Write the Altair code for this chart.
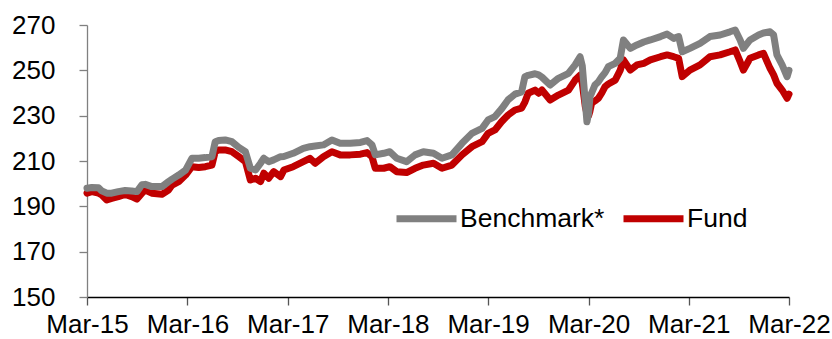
import altair as alt
import pandas as pd

dates = [
    "2015-03-01", "2015-03-18", "2015-04-12", "2015-04-24", "2015-05-12", "2015-05-30",
    "2015-06-23", "2015-07-18", "2015-08-11", "2015-08-30", "2015-09-17", "2015-09-29",
    "2015-10-23", "2015-11-29", "2015-12-23", "2016-01-05", "2016-01-29", "2016-02-23",
    "2016-03-17", "2016-04-11", "2016-05-05", "2016-05-29", "2016-06-10", "2016-06-22",
    "2016-07-16", "2016-08-10", "2016-09-04", "2016-09-28", "2016-10-16", "2016-11-04",
    "2016-11-22", "2016-12-04", "2016-12-22", "2017-01-09", "2017-02-03", "2017-02-15",
    "2017-03-21", "2017-04-27", "2017-05-21", "2017-06-09", "2017-07-09", "2017-08-09",
    "2017-09-08", "2017-10-15", "2017-11-21", "2017-12-15", "2018-01-02", "2018-01-14",
    "2018-02-14", "2018-03-08", "2018-04-02", "2018-05-08", "2018-06-08", "2018-07-08",
    "2018-08-14", "2018-09-14", "2018-10-20", "2018-11-26", "2019-01-01", "2019-02-07",
    "2019-03-01", "2019-03-26", "2019-04-19", "2019-05-13", "2019-06-07", "2019-07-01",
    "2019-07-13", "2019-07-25", "2019-08-19", "2019-09-01", "2019-09-13", "2019-10-13",
    "2019-11-12", "2019-12-19", "2020-01-12", "2020-01-30", "2020-02-07", "2020-02-18",
    "2020-02-24", "2020-03-01", "2020-03-06", "2020-03-12", "2020-03-24", "2020-04-06",
    "2020-04-18", "2020-04-30", "2020-05-12", "2020-06-06", "2020-06-24", "2020-07-06",
    "2020-07-31", "2020-08-24", "2020-09-18", "2020-10-12", "2020-11-18", "2020-12-12",
    "2021-01-05", "2021-01-23", "2021-02-05", "2021-03-05", "2021-04-11", "2021-05-17",
    "2021-06-23", "2021-07-29", "2021-08-17", "2021-09-04", "2021-09-16", "2021-10-10",
    "2021-11-10", "2021-11-28", "2021-12-22", "2022-01-04", "2022-01-16", "2022-02-04",
    "2022-02-22", "2022-03-01",
]

fund = [
    195.8, 196.5, 195.8, 195.0, 192.8, 193.5,
    194.3, 195.3, 194.3, 193.2, 195.8, 197.2,
    195.8, 195.3, 197.2, 199.4, 200.9, 203.8,
    207.5, 207.1, 207.5, 208.2, 214.1, 214.9,
    214.9, 214.1, 211.9, 209.7, 201.6, 202.4,
    200.9, 204.6, 202.4, 205.3, 203.1, 206.0,
    207.5, 209.7, 211.2, 209.0, 211.9, 214.1,
    212.7, 212.7, 213.0, 213.7, 211.9, 206.8,
    206.8, 207.5, 205.3, 204.9, 206.8, 208.2,
    209.0, 206.8, 208.2, 212.7, 216.3, 218.5,
    222.2, 223.7, 227.3, 230.3, 232.5, 233.3,
    236.0, 239.9, 241.3, 239.9, 241.3, 236.9,
    239.1, 241.3, 245.7, 247.9, 244.3, 234.0,
    231.0, 230.0, 232.0, 235.5, 236.5, 237.7,
    240.0, 242.8, 244.0, 245.7, 250.0, 254.6,
    250.1, 252.4, 253.1, 254.6, 256.0, 256.8,
    256.0, 255.3, 247.2, 250.1, 252.4, 256.0,
    256.8, 258.2, 259.0, 253.8, 250.1, 255.3,
    256.8, 257.5, 250.9, 248.0, 244.3, 241.3,
    237.7, 239.5,
]

benchmark = [
    198.0, 198.3, 198.2, 196.8, 195.8, 195.8,
    196.5, 197.0, 196.8, 196.5, 199.5, 199.7,
    198.7, 198.7, 200.9, 202.0, 203.8, 206.0,
    211.2, 211.2, 211.5, 211.9, 218.5, 219.0,
    219.3, 218.5, 216.0, 214.1, 206.8, 206.0,
    209.0, 211.2, 209.7, 210.5, 211.9, 212.0,
    213.4, 215.6, 216.3, 216.6, 217.1, 219.3,
    217.8, 217.8, 218.2, 219.0, 217.1, 212.7,
    213.4, 214.1, 211.2, 209.7, 212.7, 214.1,
    213.4, 211.2, 212.7, 217.8, 222.2, 224.4,
    228.1, 229.6, 233.0, 237.0, 239.5, 240.5,
    247.2, 247.8, 248.5, 248.0, 247.0, 243.5,
    246.5, 248.7, 252.4, 256.0, 252.0, 236.0,
    227.3, 231.0, 238.4, 240.0, 243.5, 245.0,
    247.2, 249.0, 251.6, 253.1, 255.3, 263.4,
    259.7, 261.2, 262.5, 263.4, 264.9, 266.0,
    264.1, 264.9, 258.2, 259.7, 261.9, 264.9,
    265.6, 267.0, 267.8, 263.4, 259.7, 263.4,
    265.6, 266.5, 267.0, 265.6, 256.8, 252.4,
    247.2, 250.0,
]

series_names = ["Benchmark*", "Fund"]
series_colors = ["#808080", "#C00000"]
y_ticks = [150, 170, 190, 210, 230, 250, 270]
x_tick_years = [2015, 2016, 2017, 2018, 2019, 2020, 2021, 2022]

df = pd.concat([
    pd.DataFrame({"date": dates, "value": benchmark, "series": series_names[0]}),
    pd.DataFrame({"date": dates, "value": fund, "series": series_names[1]}),
])

FONT = "Liberation Sans"

color = alt.Color(
    "series:N",
    scale=alt.Scale(domain=series_names, range=series_colors),
    legend=alt.Legend(
        title=None,
        orient="none",
        legendX=301,
        legendY=160,
        direction="horizontal",
        symbolType="stroke",
        symbolSize=3600,
        symbolStrokeWidth=7,
        symbolOffset=5,
        labelFontSize=26.5,
        labelFont=FONT,
        labelColor="#000000",
        labelOffset=0,
        columnPadding=4,
        padding=0,
    ),
)

x = alt.X(
    "date:T",
    scale=alt.Scale(type="utc", domain=[alt.DateTime(year=2015, month=3, date=1, utc=True),
                                        alt.DateTime(year=2022, month=3, date=1, utc=True)]),
    axis=alt.Axis(
        title=None,
        values=[alt.DateTime(year=yy, month=3, date=1, utc=True) for yy in x_tick_years],
        labelExpr="utcFormat(datum.value, '%b-%y')",
        labelFontSize=26,
        labelFont=FONT,
        labelColor="#000000",
        labelPadding=6,
        labelOverlap=False,
        labelFlush=False,
        domainColor="#000000",
        domainWidth=1.3,
        tickColor="#555555",
        tickWidth=1.3,
        tickSize=8,
        grid=False,
    ),
)

y = alt.Y(
    "value:Q",
    scale=alt.Scale(domain=[150, 270], nice=False, zero=False),
    axis=alt.Axis(
        title=None,
        values=y_ticks,
        labelFontSize=26,
        labelFont=FONT,
        labelColor="#000000",
        labelPadding=24,
        domainColor="#808080",
        domainWidth=1.3,
        tickColor="#808080",
        tickWidth=1.3,
        tickSize=8,
        grid=False,
    ),
)

base = alt.Chart(df)
fund_line = base.transform_filter(alt.datum.series == "Fund").mark_line(
    strokeWidth=7, strokeCap="round", strokeJoin="round"
).encode(x=x, y=y, color=color)
bench_line = base.transform_filter(alt.datum.series == "Benchmark*").mark_line(
    strokeWidth=7, strokeCap="round", strokeJoin="round"
).encode(x=x, y=y, color=color)

chart = alt.layer(fund_line, bench_line).properties(
    width=702,
    height=272,
    padding={"left": 87, "top": 25, "right": 43, "bottom": 42},
    autosize=alt.AutoSizeParams(type="none"),
).configure_view(stroke=None)

chart.save("out.html", embed_options={"renderer": "svg", "actions": False})
